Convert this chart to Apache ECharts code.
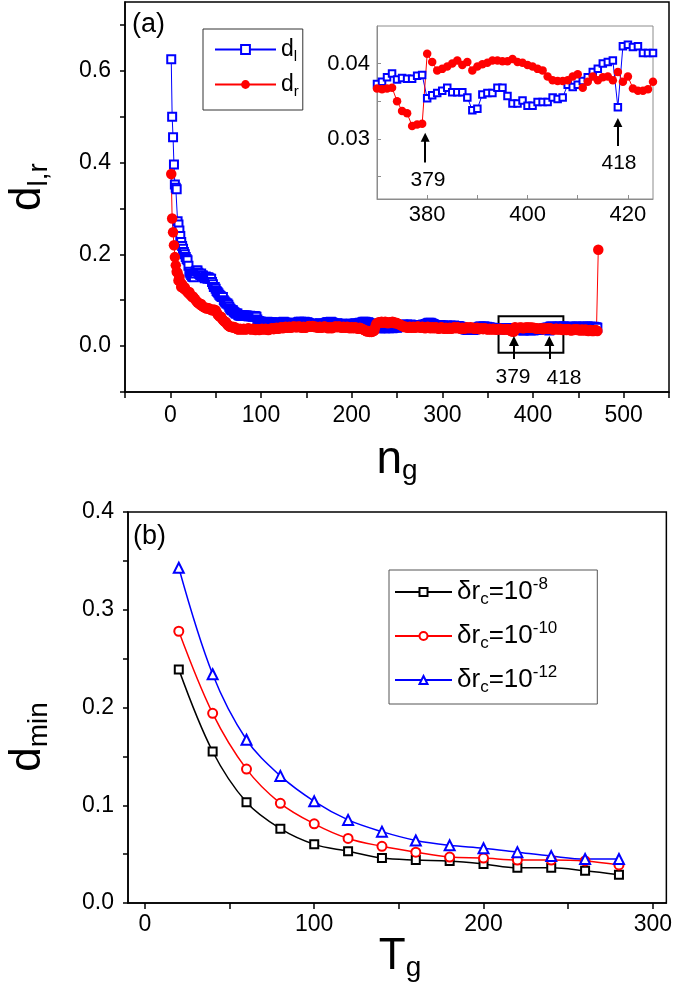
<!DOCTYPE html>
<html><head><meta charset="utf-8">
<script src="https://cdn.jsdelivr.net/npm/echarts@6/dist/echarts.min.js"></script>
<style>html,body{margin:0;padding:0;background:#fff}#c{width:675px;height:989px}</style>
</head><body><div id="c"></div><script>
// ---------- panel (a): d_l and d_r versus n_g ----------
const dlEarlyStart = 1;
const dlEarly = [.625,.500,.455,.396,.352,.345,.342,.272,.265,.252,
 .240,.227,.218,.212,.205,.200,.194,.190,.187,.175,
 .162,.158,.155,.152,.151,.150,.158,.163,.165,.165,
 .160,.157,.155,.158,.154,.154,.150,.148,.152,.150,
 .147,.150,.148,.147,.147,.140,.135,.129,.129,.125,
 .120,.118,.115,.112,.110,.108,.107,.107,.100,.097,
 .095,.093,.093,.090,.086,.082,.080,.078,.078,.075,
 .073,.071,.071,.071,.068,.067,.067,.066,.067,.066,
 .067,.067,.066,.067,.066,.065,.065,.066,.065,.065,
 .064,.065,.065,.065,.064,.058,.055,.054,.053,.053];
const dlMidStart = 101;
const dlMid = [.052,.051,.052,.050,.051,.052,.053,.052,.051,.050,
 .051,.052,.050,.049,.050,.051,.052,.051,.050,.049,
 .050,.051,.050,.052,.053,.052,.051,.050,.049,.050,
 .051,.050,.049,.048,.049,.050,.051,.050,.049,.050,
 .052,.053,.052,.053,.052,.051,.052,.053,.052,.051,
 .052,.051,.050,.049,.048,.049,.048,.047,.048,.049,
 .048,.047,.048,.049,.050,.049,.048,.047,.048,.049,
 .050,.051,.052,.052,.051,.052,.053,.052,.051,.050,
 .049,.048,.049,.050,.049,.048,.047,.048,.049,.048,
 .047,.048,.049,.048,.047,.046,.047,.048,.049,.048,
 .047,.048,.049,.050,.049,.048,.049,.050,.051,.050,
 .051,.052,.053,.052,.053,.052,.051,.052,.051,.050,
 .049,.048,.047,.046,.045,.044,.042,.041,.040,.040,
 .039,.040,.039,.040,.041,.040,.039,.040,.041,.040,
 .039,.040,.041,.040,.039,.040,.041,.042,.041,.040,
 .041,.042,.043,.044,.045,.046,.047,.046,.045,.046,
 .047,.046,.045,.046,.047,.046,.045,.044,.045,.046,
 .045,.044,.045,.046,.045,.044,.045,.046,.047,.046,
 .047,.048,.049,.050,.051,.050,.051,.050,.049,.048,
 .047,.046,.045,.046,.045,.044,.045,.046,.045,.044,
 .045,.044,.043,.044,.045,.044,.043,.044,.045,.044,
 .043,.044,.045,.044,.043,.042,.043,.044,.043,.042,
 .041,.040,.039,.038,.037,.036,.036,.035,.036,.035,
 .036,.035,.036,.035,.036,.037,.038,.039,.040,.041,
 .042,.043,.042,.041,.042,.043,.042,.041,.042,.041,
 .040,.041,.040,.039,.040,.039,.038,.039,.038,.039,
 .038,.039,.038,.037,.038,.037,.038,.037,.038];
const insetStart = 370;
const dlInset = [.0373,.0376,.0382,.0387,.0379,.0381,.0380,.0380,.0384,.0385,
 .0354,.0358,.0361,.0364,.0368,.0362,.0362,.0362,.0355,.0338,
 .0340,.0359,.0361,.0361,.0368,.0368,.0357,.0347,.0347,.0351,
 .0344,.0344,.0349,.0349,.0349,.0355,.0353,.0355,.0372,.0369,
 .0372,.0377,.0382,.0389,.0393,.0400,.0402,.0404,.0342,.0423,
 .0425,.0422,.0423,.0414,.0414,.0414];
const dlLateStart = 426;
const dlLate = [.041,.042,.041,.042,.043,.042,.041,.042,.043,.042,
 .041,.042,.041,.040,.041,.042,.041,.042,.041,.040,
 .041,.042,.043,.042,.041,.042,.041,.040,.041,.042,
 .041,.042,.041,.042,.043,.042,.041,.042,.041,.042,
 .041,.042,.041,.040,.041,.040];

const drEarlyStart = 1;
const drEarly = [.375,.278,.248,.220,.194,.176,.162,.160,.143,.150,
 .140,.129,.135,.130,.125,.128,.122,.120,.118,.115,
 .118,.112,.110,.107,.108,.105,.103,.100,.098,.095,
 .094,.093,.090,.092,.088,.086,.085,.084,.083,.082,
 .083,.082,.082,.080,.079,.078,.078,.080,.078,.078,
 .074,.070,.067,.065,.064,.064,.060,.057,.055,.053,
 .053,.050,.047,.045,.043,.042,.042,.041,.042,.040,
 .041,.040,.038,.037,.036,.037,.038,.037,.036,.037,
 .038,.037,.036,.037,.038,.039,.038,.037,.036,.037,
 .038,.037,.036,.035,.036,.037,.036,.035,.036,.037];
const drMidStart = 101;
const drMid = [.038,.037,.036,.037,.038,.037,.036,.035,.036,.037,
 .038,.039,.038,.037,.038,.039,.040,.039,.038,.039,
 .040,.041,.040,.039,.040,.041,.042,.041,.040,.041,
 .042,.041,.040,.041,.042,.043,.042,.041,.042,.041,
 .042,.043,.042,.041,.040,.041,.042,.041,.040,.041,
 .042,.043,.044,.043,.042,.043,.044,.043,.042,.041,
 .042,.041,.040,.041,.042,.041,.040,.041,.042,.043,
 .042,.041,.040,.039,.040,.041,.040,.039,.040,.041,
 .042,.043,.042,.041,.042,.043,.042,.041,.040,.041,
 .042,.041,.040,.041,.042,.041,.040,.039,.040,.041,
 .040,.039,.040,.041,.040,.039,.038,.039,.040,.039,
 .038,.037,.036,.035,.034,.033,.032,.033,.032,.031,
 .032,.031,.032,.033,.034,.042,.048,.050,.051,.052,
 .051,.052,.053,.052,.051,.052,.053,.052,.051,.050,
 .051,.052,.051,.052,.053,.052,.051,.050,.051,.050,
 .049,.048,.047,.046,.045,.044,.043,.042,.041,.042,
 .041,.040,.041,.042,.041,.040,.041,.042,.041,.040,
 .041,.042,.043,.042,.041,.040,.041,.042,.041,.040,
 .039,.040,.041,.042,.041,.040,.039,.040,.041,.040,
 .039,.040,.041,.040,.039,.038,.039,.040,.041,.040,
 .039,.038,.039,.040,.039,.038,.039,.040,.039,.038,
 .039,.040,.041,.040,.039,.040,.041,.040,.039,.038,
 .039,.040,.039,.038,.039,.040,.041,.040,.039,.040,
 .041,.040,.039,.040,.039,.038,.039,.040,.039,.038,
 .037,.038,.039,.038,.037,.038,.039,.038,.037,.036,
 .037,.038,.037,.036,.037,.038,.037,.036,.037,.036,
 .037,.036,.037,.038,.037,.036,.037,.036,.037];
const drInset = [.0367,.0366,.0367,.0368,.0350,.0337,.0334,.0317,.0319,.0320,
 .0413,.0402,.0391,.0393,.0396,.0400,.0404,.0398,.0402,.0391,
 .0396,.0399,.0401,.0404,.0404,.0403,.0403,.0406,.0402,.0401,
 .0398,.0396,.0393,.0391,.0383,.0378,.0377,.0377,.0378,.0383,
 .0386,.0368,.0376,.0383,.0378,.0382,.0383,.0378,.0389,.0376,
 .0383,.0367,.0364,.0364,.0366,.0376];
const drLateStart = 426;
const drLate = [.038,.037,.036,.037,.038,.037,.036,.035,.036,.037,
 .036,.035,.036,.037,.036,.035,.034,.035,.036,.035,
 .036,.037,.036,.035,.036,.035,.034,.035,.036,.035,
 .034,.035,.036,.035,.034,.033,.034,.035,.034,.033,
 .034,.033,.034,.035,.034,.033,.210];

const mainXTicks = [-50,0,50,100,150,200,250,300,350,400,450,500,550];
const mainXLabels = [0,100,200,300,400,500];
const mainYTicks = [-0.1,0,0.1,0.2,0.3,0.4,0.5,0.6,0.7];
const mainYLabels = [0,0.2,0.4,0.6];
const insetXTicks = [370,380,390,400,410,420];
const insetXLabels = [380,400,420];
const insetYTicks = [0.025,0.03,0.035,0.04];
const insetYLabels = [0.03,0.04];
const markedN = [379,418];

// ---------- panel (b): d_min versus T_g ----------
const tg = [20,40,60,80,100,120,140,160,180,200,220,240,260,280];
const dmin8  = [.239,.155,.103,.076,.060,.053,.046,.044,.043,.040,.036,.036,.033,.029];
const dmin10 = [.278,.194,.137,.102,.081,.066,.058,.052,.047,.046,.044,.044,.043,.039];
const dmin12 = [.343,.234,.167,.130,.104,.085,.073,.064,.059,.056,.052,.048,.045,.045];
const botXTicks = [0,50,100,150,200,250,300];
const botXLabels = [0,100,200,300];
const botYTicks = [0,0.05,0.1,0.15,0.2,0.25,0.3,0.35,0.4];
const botYLabels = [0,0.1,0.2,0.3,0.4];

// ---------- build ----------
function seg(start, arr){ return arr.map((v,i)=>[start+i, v]); }
const dlData = [].concat(seg(dlEarlyStart,dlEarly), seg(dlMidStart,dlMid), seg(insetStart,dlInset), seg(dlLateStart,dlLate));
const drData = [].concat(seg(drEarlyStart,drEarly), seg(drMidStart,drMid), seg(insetStart,drInset), seg(drLateStart,drLate));
const dlIn = seg(insetStart, dlInset);
const drIn = seg(insetStart, drInset);
const zip = (xs, ys) => xs.map((x,i)=>[x, ys[i]]);

const FONT = '"Liberation Sans", Arial, sans-serif';
const BLUE = '#0000ff', RED = '#ff0000';

function ax(grid, min, max, ticks, labels, opt){
  opt = opt || {};
  return {gridIndex:grid, type:'value', min:min, max:max,
    axisLine:{onZero:false, lineStyle:{color:opt.lc||'#000', width:opt.lw||1.5}},
    axisTick:{inside:!!opt.inside, length:opt.tl||6, customValues:ticks, lineStyle:{color:opt.lc||'#000', width:opt.lw||1.5}},
    axisLabel:{customValues:labels, fontSize:opt.fs||23, color:'#000', fontFamily:FONT, margin:opt.m||12,
      formatter: opt.fmt || (v=>String(v))},
    splitLine:{show:false}};
}

const arrowLine = (n, y0, y1) => [{coord:[n,y0], symbol:'none'}, {coord:[n,y1], symbol:'triangle'}];

const option = {
  animation:false,
  backgroundColor:'#fff',
  textStyle:{fontFamily:FONT, color:'#000'},
  grid:[
    {left:125, top:2, width:544, height:390, show:true, borderColor:'#000', borderWidth:1.5, backgroundColor:'transparent'},
    {left:377, top:26, width:276, height:173, show:true, borderColor:'#8c8c8c', borderWidth:1, backgroundColor:'#fff', z:3},
    {left:128, top:512, width:541, height:391, show:true, borderColor:'#000', borderWidth:1.5, backgroundColor:'transparent'}
  ],
  xAxis:[
    ax(0,-50,550,mainXTicks,mainXLabels,{m:12}),
    Object.assign(ax(1,370,425,insetXTicks,insetXLabels,{inside:true, tl:4, lc:'#8c8c8c', lw:1, fs:22, m:5}), {z:4}),
    ax(2,-10,308,botXTicks,botXLabels,{m:10})
  ],
  yAxis:[
    ax(0,-0.1,0.75,mainYTicks,mainYLabels,{m:14, tl:5, fmt:v=>v.toFixed(1)}),
    Object.assign(ax(1,0.022,0.045,insetYTicks,insetYLabels,{inside:true, tl:4, lc:'#8c8c8c', lw:1, fs:22, m:7, fmt:v=>v.toFixed(2)}), {z:4}),
    ax(2,0,0.4,botYTicks,botYLabels,{m:14, tl:5, fmt:v=>v.toFixed(1)})
  ],
  legend:[
    {data:['dl','dr'], orient:'vertical', left:203, top:29, itemWidth:61, itemHeight:11, itemGap:9,
     padding:[9,4,11,11], borderColor:'#333', borderWidth:1, selectedMode:false,
     formatter: n => n==='dl' ? '{m|d}{s|l}' : '{m|d}{s|r}',
     textStyle:{rich:{m:{fontSize:23, lineHeight:29, fontFamily:FONT, color:'#000'}, s:{fontSize:15, lineHeight:15, verticalAlign:'bottom', fontFamily:FONT, color:'#000'}}}},
    {data:['r8','r10','r12'], orient:'vertical', left:389, top:570, itemWidth:57, itemHeight:10, itemGap:12,
     padding:[6,40,8,5], borderColor:'#555', borderWidth:1, selectedMode:false,
     formatter: n => '{m|δr}{s|c}{m|=10}{p|' + (n==='r8'?'-8':n==='r10'?'-10':'-12') + '}',
     textStyle:{rich:{m:{fontSize:26, lineHeight:32, fontFamily:FONT, color:'#000'},
       s:{fontSize:17, lineHeight:17, verticalAlign:'bottom', fontFamily:FONT, color:'#000'},
       p:{fontSize:17, lineHeight:17, verticalAlign:'top', fontFamily:FONT, color:'#000'}}}}
  ],
  series:[
    {name:'dl', type:'line', xAxisIndex:0, yAxisIndex:0, data:dlData, symbol:'emptyRect', symbolSize:8,
     lineStyle:{color:BLUE, width:1}, itemStyle:{color:BLUE, borderColor:BLUE, borderWidth:1.6}, z:2},
    {name:'dr', type:'line', xAxisIndex:0, yAxisIndex:0, data:drData, symbol:'circle', symbolSize:10.5,
     lineStyle:{color:RED, width:1}, itemStyle:{color:RED}, z:2,
     markArea:{silent:true, data:[[{coord:[362,0.065]},{coord:[433.5,-0.0146]}]],
       itemStyle:{color:'rgba(0,0,0,0)', borderColor:'#000', borderWidth:2}, label:{show:false}},
     markLine:{silent:true, symbolSize:10, label:{show:false}, lineStyle:{color:'#000', width:2, type:'solid'},
       data:[arrowLine(markedN[0],-0.028,0.011), arrowLine(markedN[1],-0.028,0.011)]}},
    {name:'dl_in', type:'line', xAxisIndex:1, yAxisIndex:1, data:dlIn, symbol:'emptyRect', symbolSize:6.5, clip:true,
     lineStyle:{color:BLUE, width:1}, itemStyle:{color:BLUE, borderColor:BLUE, borderWidth:1.3}, z:5},
    {name:'dr_in', type:'line', xAxisIndex:1, yAxisIndex:1, data:drIn, symbol:'circle', symbolSize:8.5, clip:true,
     lineStyle:{color:RED, width:1}, itemStyle:{color:RED}, z:5,
     markLine:{silent:true, symbolSize:9, label:{show:false}, lineStyle:{color:'#000', width:2, type:'solid'},
       data:[arrowLine(379.6,0.02684,0.0302), arrowLine(markedN[1],0.02903,0.03217)]}},
    {name:'r8', type:'line', xAxisIndex:2, yAxisIndex:2, data:zip(tg,dmin8), smooth:0.35, symbol:'emptyRect', symbolSize:8,
     lineStyle:{color:'#000', width:1.5}, itemStyle:{color:'#000', borderWidth:1.5}},
    {name:'r10', type:'line', xAxisIndex:2, yAxisIndex:2, data:zip(tg,dmin10), smooth:0.35, symbol:'emptyCircle', symbolSize:9,
     lineStyle:{color:RED, width:1.5}, itemStyle:{color:RED, borderWidth:1.5}},
    {name:'r12', type:'line', xAxisIndex:2, yAxisIndex:2, data:zip(tg,dmin12), smooth:0.35, symbol:'emptyTriangle', symbolSize:10,
     lineStyle:{color:BLUE, width:1.5}, itemStyle:{color:BLUE, borderWidth:1.5}}
  ],
  graphic:[
    {type:'text', x:132, y:25, style:{text:'(a)', font:'27px '+FONT, fill:'#000', verticalAlign:'middle'}},
    {type:'text', x:133, y:537, style:{text:'(b)', font:'27px '+FONT, fill:'#000', verticalAlign:'middle'}},
    {type:'text', x:513, y:377, style:{text:'379', font:'21px '+FONT, fill:'#000', align:'center', verticalAlign:'middle'}},
    {type:'text', x:564, y:378, style:{text:'418', font:'21px '+FONT, fill:'#000', align:'center', verticalAlign:'middle'}},
    {type:'text', x:428, y:180, z:10, style:{text:'379', font:'21px '+FONT, fill:'#000', align:'center', verticalAlign:'middle'}},
    {type:'text', x:619, y:163, z:10, style:{text:'418', font:'21px '+FONT, fill:'#000', align:'center', verticalAlign:'middle'}},
    {type:'text', x:28, y:187, rotation:Math.PI/2, style:{text:'{m|d}{s|l,r}', align:'center', verticalAlign:'middle',
      rich:{m:{fontSize:44, lineHeight:50, fontFamily:FONT, fill:'#000'}, s:{fontSize:28, lineHeight:28, verticalAlign:'bottom', fontFamily:FONT, fill:'#000'}}}},
    {type:'text', x:397, y:460, style:{text:'{m|n}{s|g}', align:'center', verticalAlign:'middle',
      rich:{m:{fontSize:46, lineHeight:50, fontFamily:FONT, fill:'#000'}, s:{fontSize:28, lineHeight:28, verticalAlign:'bottom', fontFamily:FONT, fill:'#000'}}}},
    {type:'text', x:28, y:737, rotation:Math.PI/2, style:{text:'{m|d}{s|min}', align:'center', verticalAlign:'middle',
      rich:{m:{fontSize:44, lineHeight:50, fontFamily:FONT, fill:'#000'}, s:{fontSize:28, lineHeight:28, verticalAlign:'bottom', fontFamily:FONT, fill:'#000'}}}},
    {type:'text', x:400, y:957, style:{text:'{m|T}{s|g}', align:'center', verticalAlign:'middle',
      rich:{m:{fontSize:44, lineHeight:50, fontFamily:FONT, fill:'#000'}, s:{fontSize:28, lineHeight:28, verticalAlign:'bottom', fontFamily:FONT, fill:'#000'}}}}
  ]
};
const chart = echarts.init(document.getElementById('c'), null, {renderer:'canvas'});
chart.setOption(option);
</script></body></html>
